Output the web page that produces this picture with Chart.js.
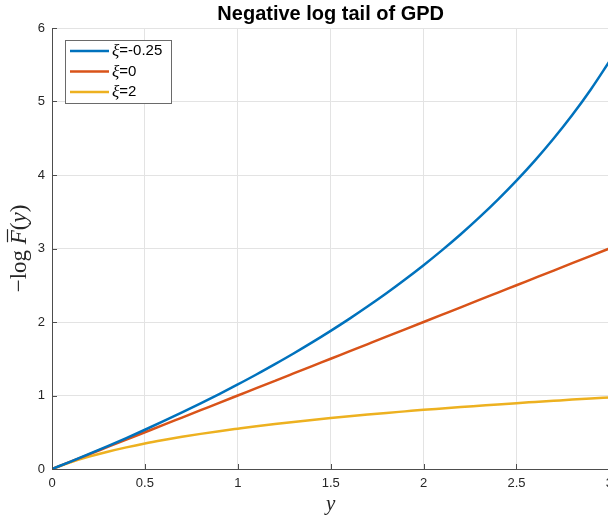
<!DOCTYPE html>
<html>
<head>
<meta charset="utf-8">
<script src="https://cdn.jsdelivr.net/npm/chart.js@4.4.1/dist/chart.umd.min.js"></script>
<style>
  html, body { margin: 0; padding: 0; overflow: hidden; background: #fff; }
  #wrap { width: 620px; height: 517px; }
</style>
</head>
<body>
<div id="wrap"><canvas id="gpdChart" width="620" height="517"></canvas></div>
<script>
// y grid and the three negative log tails (xi = -0.25, 0, 2)
const yGrid = [0, 0.1, 0.2, 0.3, 0.4, 0.5, 0.6, 0.7, 0.8, 0.9, 1.0, 1.1, 1.2, 1.3, 1.4, 1.5,
  1.6, 1.7, 1.8, 1.9, 2.0, 2.1, 2.2, 2.3, 2.4, 2.5, 2.6, 2.7, 2.8, 2.9, 3.0];
const tailXiNeg = [0, 0.101, 0.205, 0.312, 0.421, 0.534, 0.650, 0.770, 0.893, 1.020, 1.151,
  1.286, 1.427, 1.572, 1.723, 1.880, 2.043, 2.214, 2.391, 2.578, 2.773, 2.978, 3.194, 3.423,
  3.665, 3.923, 4.199, 4.496, 4.816, 5.164, 5.545];
const tailXiZero = [0, 0.1, 0.2, 0.3, 0.4, 0.5, 0.6, 0.7, 0.8, 0.9, 1.0, 1.1, 1.2, 1.3, 1.4,
  1.5, 1.6, 1.7, 1.8, 1.9, 2.0, 2.1, 2.2, 2.3, 2.4, 2.5, 2.6, 2.7, 2.8, 2.9, 3.0];
const tailXiTwo = [0, 0.091, 0.168, 0.235, 0.294, 0.347, 0.394, 0.438, 0.478, 0.515, 0.549,
  0.582, 0.612, 0.640, 0.667, 0.693, 0.718, 0.741, 0.763, 0.784, 0.805, 0.824, 0.843, 0.861,
  0.879, 0.896, 0.912, 0.928, 0.944, 0.959, 0.973];

const seriesNames = ['-0.25', '0', '2'];
const seriesColors = ['#0072BD', '#D95319', '#EDB120'];
const xTickValues = [0, 0.5, 1, 1.5, 2, 2.5, 3];
const yTickValues = [0, 1, 2, 3, 4, 5, 6];

const axisColor = '#4d4d4d';
const sansFont = "'Liberation Sans', Arial, Helvetica, sans-serif";
const serifFont = "'Liberation Serif', 'Times New Roman', serif";

function toPoints(vals) {
  return yGrid.map((x, i) => ({ x: x, y: vals[i] }));
}

// little inward tick marks, MATLAB style
const innerTicks = {
  id: 'innerTicks',
  afterDraw(chart) {
    const { ctx, chartArea, scales } = chart;
    ctx.save();
    ctx.strokeStyle = axisColor;
    ctx.lineWidth = 1;
    ctx.beginPath();
    xTickValues.forEach((v) => {
      const px = Math.round(scales.x.getPixelForValue(v)) + 0.5;
      ctx.moveTo(px, chartArea.bottom);
      ctx.lineTo(px, chartArea.bottom - 5);
    });
    yTickValues.forEach((v) => {
      const py = Math.round(scales.y.getPixelForValue(v)) + 0.5;
      ctx.moveTo(chartArea.left, py);
      ctx.lineTo(chartArea.left + 5, py);
    });
    ctx.stroke();
    ctx.restore();
  },
};

// y axis label: -log \bar{F}(y)
const yLabel = {
  id: 'yLabel',
  afterDraw(chart) {
    const { ctx, chartArea } = chart;
    const size = 23;
    const parts = [
      { t: '\u2212log ', f: `${size}px ${serifFont}` },
      { t: 'F', f: `italic ${size}px ${serifFont}`, bar: true },
      { t: '(', f: `${size}px ${serifFont}` },
      { t: 'y', f: `italic ${size}px ${serifFont}` },
      { t: ')', f: `${size}px ${serifFont}` },
    ];
    ctx.save();
    let total = 0;
    parts.forEach((p) => { ctx.font = p.f; p.w = ctx.measureText(p.t).width; total += p.w; });
    ctx.translate(20, (chartArea.top + chartArea.bottom) / 2);
    ctx.rotate(-Math.PI / 2);
    ctx.fillStyle = '#262626';
    ctx.strokeStyle = '#262626';
    ctx.textBaseline = 'middle';
    let x = -total / 2;
    parts.forEach((p) => {
      ctx.font = p.f;
      ctx.fillText(p.t, x, 0);
      if (p.bar) {
        ctx.lineWidth = 1.2;
        ctx.beginPath();
        ctx.moveTo(x + 2, -12.5);
        ctx.lineTo(x + p.w + 1, -12.5);
        ctx.stroke();
      }
      x += p.w;
    });
    ctx.restore();
  },
};

// boxed legend in the upper left corner of the axes
const boxLegend = {
  id: 'boxLegend',
  afterDraw(chart) {
    const { ctx, chartArea } = chart;
    const left = chartArea.left + 13;
    const top = chartArea.top + 12;
    const w = 106, h = 63;
    ctx.save();
    ctx.fillStyle = '#fff';
    ctx.fillRect(left, top, w, h);
    ctx.strokeStyle = '#6a6a6a';
    ctx.lineWidth = 1;
    ctx.strokeRect(left + 0.5, top + 0.5, w, h);
    ctx.textBaseline = 'middle';
    chart.data.datasets.forEach((ds, i) => {
      const cy = top + 11 + i * 20.5;
      ctx.strokeStyle = ds.borderColor;
      ctx.lineWidth = 2.5;
      ctx.beginPath();
      ctx.moveTo(left + 5, cy);
      ctx.lineTo(left + 44, cy);
      ctx.stroke();
      ctx.fillStyle = '#000';
      ctx.font = `italic 17px ${serifFont}`;
      ctx.fillText('\u03be', left + 47, cy + 1);
      const xw = ctx.measureText('\u03be').width;
      ctx.font = `15px ${sansFont}`;
      ctx.fillText('=' + seriesNames[i], left + 47 + xw, cy);
    });
    ctx.restore();
  },
};

const ctx = document.getElementById('gpdChart');
new Chart(ctx, {
  type: 'line',
  data: {
    datasets: [tailXiNeg, tailXiZero, tailXiTwo].map((vals, i) => ({
      label: '\u03be=' + seriesNames[i],
      data: toPoints(vals),
      borderColor: seriesColors[i],
      backgroundColor: seriesColors[i],
      borderWidth: 2.5,
      pointRadius: 0,
      cubicInterpolationMode: 'monotone',
      fill: false,
    })),
  },
  options: {
    responsive: false,
    animation: false,
    layout: { padding: { left: 0, right: 8, top: 0, bottom: 0 } },
    plugins: {
      legend: { display: false },
      tooltip: { enabled: false },
      title: {
        display: true,
        text: 'Negative log tail of GPD',
        fullSize: false,
        color: '#000',
        font: { family: sansFont, size: 20, weight: 'bold' },
        padding: { top: 2, bottom: 2 },
      },
    },
    scales: {
      x: {
        type: 'linear',
        min: 0,
        max: 3,
        afterFit(scale) { scale.height = 48; },
        afterBuildTicks(scale) { scale.ticks = xTickValues.map((v) => ({ value: v })); },
        ticks: {
          autoSkip: false,
          maxRotation: 0,
          padding: 7,
          color: '#262626',
          font: { family: sansFont, size: 13 },
          callback: (v) => String(v),
        },
        grid: { color: '#e3e3e3', drawTicks: false },
        border: { display: true, color: axisColor, width: 1 },
        title: {
          display: true,
          text: 'y',
          color: '#262626',
          font: { family: serifFont, size: 21, style: 'italic' },
          padding: { top: 0, bottom: 0 },
        },
      },
      y: {
        type: 'linear',
        min: 0,
        max: 6,
        afterFit(scale) { scale.width = 52; },
        afterBuildTicks(scale) { scale.ticks = yTickValues.map((v) => ({ value: v })); },
        ticks: {
          padding: 7,
          color: '#262626',
          font: { family: sansFont, size: 13 },
          callback: (v) => String(v),
        },
        grid: { color: '#e3e3e3', drawTicks: false },
        border: { display: true, color: axisColor, width: 1 },
      },
    },
  },
  plugins: [innerTicks, yLabel, boxLegend],
});
</script>
</body>
</html>
